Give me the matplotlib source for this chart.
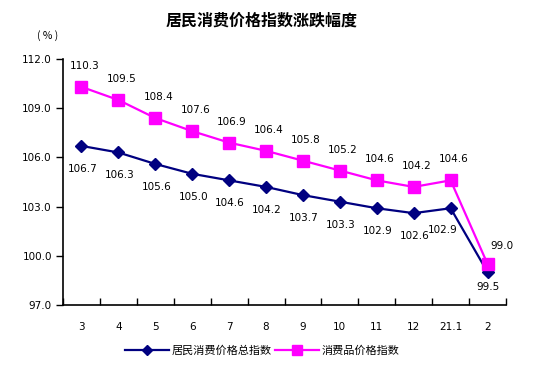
import matplotlib

matplotlib.use("Agg")
import matplotlib.pyplot as plt

plt.rcParams["font.family"] = ["DejaVu Sans", "Noto Sans CJK SC"]

MONTHS = ["3", "4", "5", "6", "7", "8", "9", "10", "11", "12", "21.1", "2"]
CPI = [106.7, 106.3, 105.6, 105.0, 104.6, 104.2, 103.7, 103.3, 102.9, 102.6, 102.9, 99.0]
GOODS = [110.3, 109.5, 108.4, 107.6, 106.9, 106.4, 105.8, 105.2, 104.6, 104.2, 104.6, 99.5]
CPI_LABELS = ["106.7", "106.3", "105.6", "105.0", "104.6", "104.2", "103.7", "103.3", "102.9", "102.6", "102.9", "99.5"]
GOODS_LABELS = ["110.3", "109.5", "108.4", "107.6", "106.9", "106.4", "105.8", "105.2", "104.6", "104.2", "104.6", "99.0"]
Y_TICKS = [97.0, 100.0, 103.0, 106.0, 109.0, 112.0]

NAVY = "#000080"
MAGENTA = "#FF00FF"
CJK = ["Noto Sans CJK SC", "DejaVu Sans"]

fig = plt.figure(figsize=(5.34, 3.68), dpi=100)
ax = fig.add_axes([63 / 534, 1 - 305 / 368, 443 / 534, 246 / 368])

x = list(range(len(MONTHS)))
ax.plot(x, CPI, color=NAVY, lw=1.6, marker="D", ms=6, mec=NAVY, label="居民消费价格总指数")
ax.plot(x, GOODS, color=MAGENTA, lw=1.6, marker="s", ms=8.5, mec=MAGENTA, label="消费品价格指数")

last = len(MONTHS) - 1
for i, (v, t) in enumerate(zip(CPI, CPI_LABELS)):
    off = (0, -15) if i == last else ((-8, -22) if i == last - 1 else (1, -23))
    ax.annotate(t, (i, v), xytext=off, textcoords="offset pixels", ha="center", va="center", fontsize=7.5)
for i, (v, t) in enumerate(zip(GOODS, GOODS_LABELS)):
    off = (14, 18) if i == last else (3, 21)
    ax.annotate(t, (i, v), xytext=off, textcoords="offset pixels", ha="center", va="center", fontsize=7.5)

ax.set_xlim(-0.5, len(MONTHS) - 0.5)
ax.set_ylim(97, 112)
ax.set_yticks(Y_TICKS)
ax.set_yticklabels([f"{v:.1f}" for v in Y_TICKS], fontsize=7.5)
ax.set_xticks([i + 0.5 for i in range(-1, len(MONTHS))])
ax.set_xticklabels([])
ax.set_xticks(x, minor=True)
ax.set_xticklabels(MONTHS, minor=True, fontsize=7.5)
ax.tick_params(axis="x", which="major", direction="in", length=5, width=1)
ax.tick_params(axis="x", which="minor", length=0, pad=12)
ax.tick_params(axis="y", direction="out", length=5, width=1, pad=3)
for side in ("top", "right"):
    ax.spines[side].set_visible(False)
for side in ("left", "bottom"):
    ax.spines[side].set_linewidth(1.2)

fig.text(262 / 534, 1 - 21 / 368, "居民消费价格指数涨跌幅度", ha="center", va="center",
         fontsize=11.5, fontweight="bold", family=CJK)
fig.text(48 / 534, 1 - 36 / 368, "( % )", ha="center", va="center", fontsize=7.5, family=CJK)

leg = fig.legend(loc="center", bbox_to_anchor=(262 / 534, 1 - 351 / 368), ncol=2, frameon=False,
                 handlelength=4, handletextpad=0.2, columnspacing=0.3, prop={"family": CJK, "size": 8},
                 markerscale=0.9)

fig.savefig("out.png", dpi=100)
